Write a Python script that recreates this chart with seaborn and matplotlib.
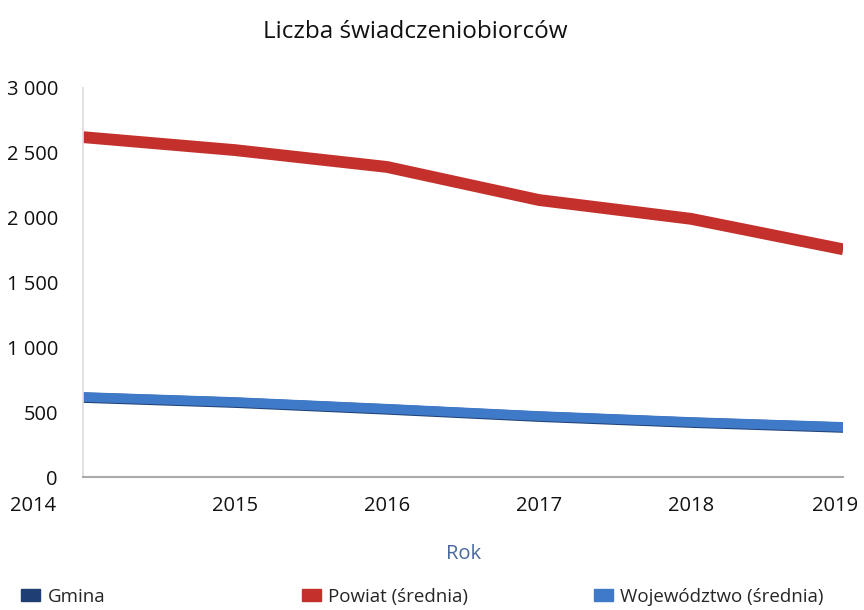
import pandas as pd
import seaborn as sns
import matplotlib.pyplot as plt
from matplotlib.patches import Patch
from matplotlib.ticker import FuncFormatter
from matplotlib.transforms import ScaledTranslation

# data
years = [2014, 2015, 2016, 2017, 2018, 2019]
gmina = [612, 573, 521, 465, 419, 381]
powiat = [2620, 2520, 2390, 2135, 1990, 1755]
wojewodztwo = [617, 578, 526, 470, 424, 386]

series_names = ["Gmina", "Powiat (średnia)", "Województwo (średnia)"]
colors = {"Gmina": "#1f3f73", "Powiat (średnia)": "#c4312c", "Województwo (średnia)": "#3f7ac8"}
widths = {"Gmina": 7.5, "Powiat (średnia)": 8.5, "Województwo (średnia)": 7}

df = pd.DataFrame({"Rok": years, "Gmina": gmina,
                   "Powiat (średnia)": powiat, "Województwo (średnia)": wojewodztwo})
long_df = df.melt(id_vars="Rok", var_name="seria", value_name="liczba")

sns.set_theme(style="white")
plt.rcParams["font.family"] = ["Open Sans", "DejaVu Sans"]

fig = plt.figure(figsize=(8.64, 6.10), dpi=100)
ax = fig.add_axes([0.096, 0.218, 0.88, 0.638])

for name in series_names:
    sns.lineplot(data=long_df[long_df["seria"] == name], x="Rok", y="liczba",
                 color=colors[name], linewidth=widths[name], ax=ax, legend=False,
                 solid_capstyle="butt")

ax.set_xlim(2014, 2019)
ax.set_ylim(0, 3000)
ax.set_yticks(range(0, 3001, 500))
ax.yaxis.set_major_formatter(FuncFormatter(lambda v, p: f"{int(v):,}".replace(",", " ")))
ax.set_xticks(years)
ax.tick_params(axis="both", length=0, labelsize=14.5, colors="#111111")
ax.tick_params(axis="x", pad=14)
ax.tick_params(axis="y", pad=18)

# first year label sits left of the axis in the original
lab0 = ax.get_xticklabels()[0]
lab0.set_transform(lab0.get_transform() + ScaledTranslation(-0.5, 0, fig.dpi_scale_trans))
lab5 = ax.get_xticklabels()[-1]
lab5.set_transform(lab5.get_transform() + ScaledTranslation(-0.08, 0, fig.dpi_scale_trans))

ax.set_xlabel("Rok", fontsize=14.5, color="#4a6a9e", labelpad=20)
ax.set_ylabel("")

for side in ["top", "right"]:
    ax.spines[side].set_visible(False)
ax.spines["left"].set_color("#dddddd")
ax.spines["bottom"].set_color("#aaaaaa")
ax.spines["bottom"].set_linewidth(1.5)

fig.text(0.481, 0.948, "Liczba świadczeniobiorców", ha="center", va="center",
         fontsize=17.5, color="#111111")

# legend entries placed separately, like in the original
legend_x = [0.005, 0.33, 0.668]
for name, lx in zip(series_names, legend_x):
    fig.legend(handles=[Patch(color=colors[name], label=name)], loc="center left",
               bbox_to_anchor=(lx, 0.022), frameon=False, fontsize=13.5,
               handlelength=1.0, handleheight=0.55, handletextpad=0.4)

fig.savefig("out.png", dpi=100)
